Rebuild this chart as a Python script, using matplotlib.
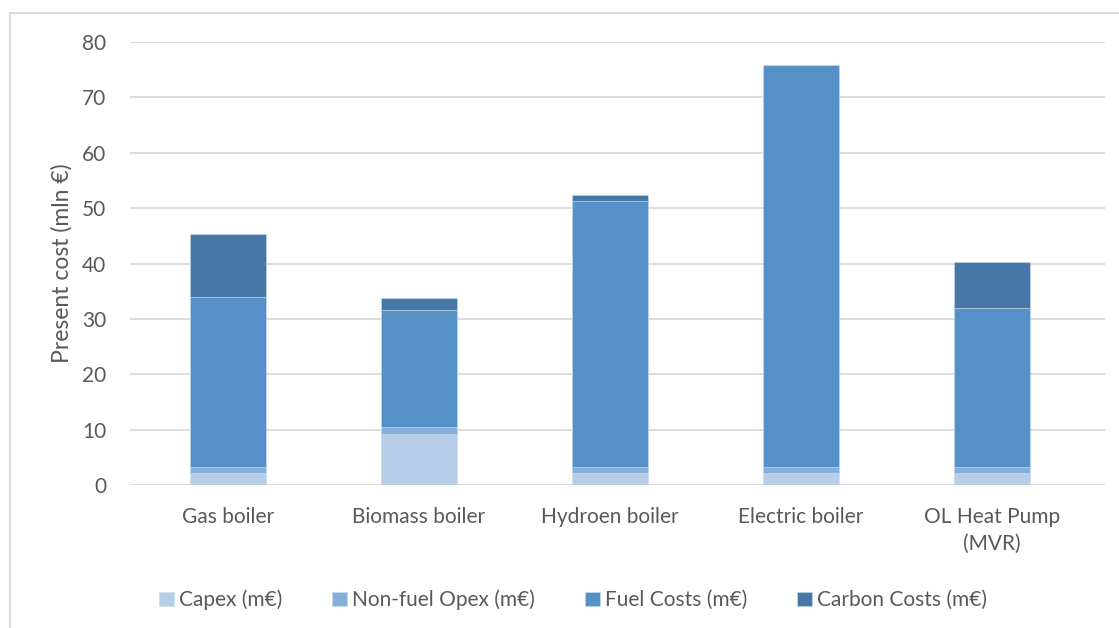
import numpy as np
import matplotlib.pyplot as plt
from matplotlib.patches import Rectangle

plt.rcParams['font.family'] = ['Lato', 'DejaVu Sans']

categories = ["Gas boiler", "Biomass boiler", "Hydroen boiler", "Electric boiler", "OL Heat Pump\n(MVR)"]
capex = [2.2, 9.3, 2.2, 2.2, 2.2]
non_fuel_opex = [1.1, 1.2, 1.1, 1.1, 1.1]
fuel_costs = [30.6, 21.1, 48.0, 72.5, 28.7]
carbon_costs = [11.5, 2.1, 1.1, 0.0, 8.2]
series_names = ["Capex (m€)", "Non-fuel Opex (m€)", "Fuel Costs (m€)", "Carbon Costs (m€)"]
colors = ["#B7CDE8", "#85AEDB", "#5591C7", "#4677A7"]

fig = plt.figure(figsize=(11.19, 6.28), dpi=100)
ax = fig.add_axes([130/1119, 1-485/628, 975/1119, 443/628])

# chart border like the spreadsheet frame
fig.patches.append(Rectangle((10/1119, -0.1), 1.2, 1-13/628+0.1, transform=fig.transFigure,
                             fill=False, edgecolor="#D9D9D9", linewidth=1.3))

x = np.arange(len(categories))
bottom = np.zeros(len(categories))
for vals, name, c in zip([capex, non_fuel_opex, fuel_costs, carbon_costs], series_names, colors):
    ax.bar(x, vals, 0.40, bottom=bottom, color=c, label=name, edgecolor="#C9DAEE", linewidth=0.4, zorder=3)
    bottom += np.array(vals)

ax.set_ylim(0, 80)
ax.set_xlim(-0.513, 4.592)
ax.set_yticks(range(0, 81, 10))
ax.set_xticks(x)
ax.set_xticklabels(categories, fontsize=15, linespacing=1.4)
ax.tick_params(axis="both", length=0, colors="#595959", labelsize=15)
ax.tick_params(axis="y", pad=17)
ax.tick_params(axis="x", pad=16)
ax.grid(axis="y", color="#D9D9D9", linewidth=1.3, zorder=0)
for s in ax.spines.values():
    s.set_visible(False)
ax.set_ylabel("Present cost (mln €)", fontsize=16.5, color="#595959")
ax.yaxis.set_label_coords((73-130)/975, 0.5)

fig.legend(loc="center", bbox_to_anchor=(573/1119, 1-600/628), ncol=4, frameon=False,
           fontsize=15, handlelength=0.7, handleheight=0.7, handletextpad=0.25, columnspacing=2.4,
           labelcolor="#595959")

fig.savefig("out.png", dpi=100)
